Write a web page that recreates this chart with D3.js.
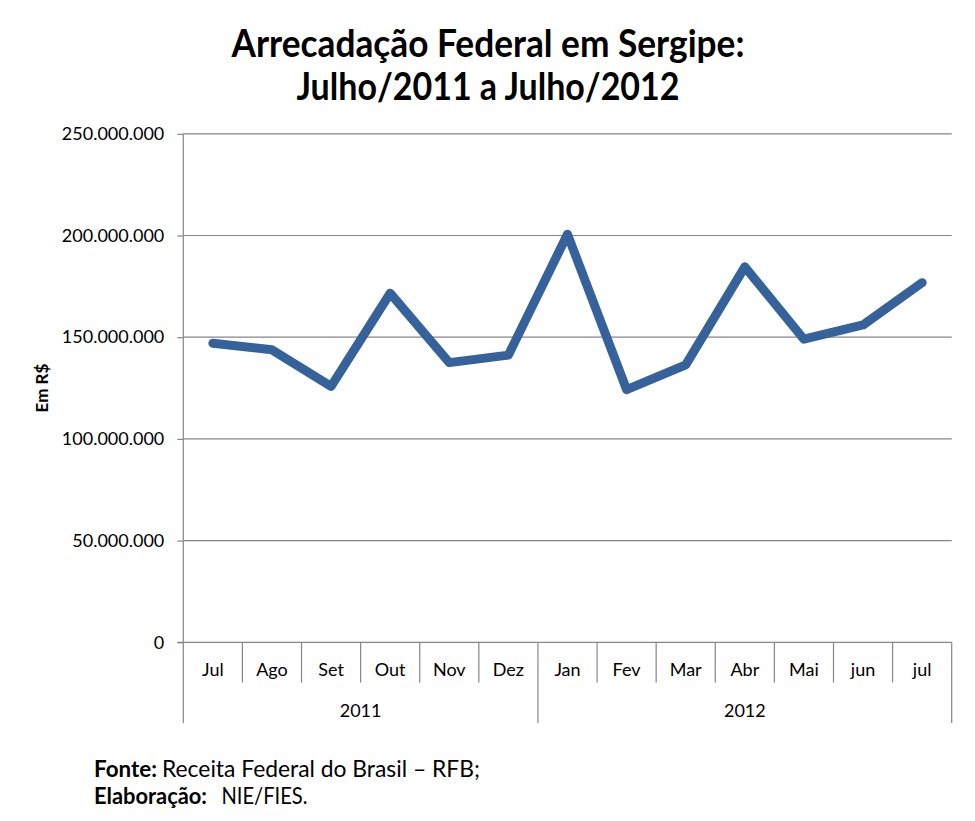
<!DOCTYPE html>
<html>
<head>
<meta charset="utf-8">
<script src="https://cdn.jsdelivr.net/npm/d3@7"></script>
<style>
  html, body { margin: 0; padding: 0; background: #fff; }
  svg { display: block; }
  text { font-family: Lato, "Open Sans", sans-serif; fill: #000; }
</style>
</head>
<body>
<svg id="chart" width="975" height="821"></svg>
<script>
const months = ["Jul","Ago","Set","Out","Nov","Dez","Jan","Fev","Mar","Abr","Mai","jun","jul"];
const values = [147.0e6, 143.8e6, 125.8e6, 171.6e6, 137.5e6, 141.2e6, 200.6e6, 124.2e6, 136.4e6, 184.6e6, 149.0e6, 156.0e6, 176.8e6];
const yearLabels = ["2011", "2012"];
const yearMonthCounts = [6, 7];
const yTicks = [0, 50e6, 100e6, 150e6, 200e6, 250e6];
const titleLines = ["Arrecadação Federal em Sergipe:", "Julho/2011 a Julho/2012"];
const yTitle = "Em R$";

(function () {
const svg = d3.select("#chart");
const pLeft = 183.3, pRight = 951.7, pTop = 133.8, pBottom = 642.3;
const gridColor = "#868686";
const lineColor = "#35629a";

const x = d3.scaleBand().domain(d3.range(months.length)).range([pLeft, pRight]).padding(0);
const y = d3.scaleLinear().domain([0, 250e6]).range([pBottom, pTop]);
const locale = d3.formatLocale({decimal: ",", thousands: ".", grouping: [3], currency: ["R$", ""]});
const fmt = locale.format(",");

// Title
const tLen = [513, 383];
const tY = [57, 100];
titleLines.forEach((t, i) => {
  svg.append("text").attr("x", 488).attr("y", tY[i]).attr("text-anchor", "middle")
    .attr("font-size", 38).attr("font-weight", "bold")
    .attr("textLength", tLen[i]).attr("lengthAdjust", "spacingAndGlyphs").text(t);
});

// Gridlines
svg.append("g").selectAll("line").data(yTicks.filter(d => d > 0)).join("line")
  .attr("x1", pLeft).attr("x2", pRight).attr("y1", d => y(d)).attr("y2", d => y(d))
  .attr("stroke", gridColor).attr("stroke-width", 1.2);

// Y axis
const yAxis = d3.axisLeft(y).tickValues(yTicks).tickFormat(fmt).tickSize(6).tickPadding(13);
const gy = svg.append("g").attr("transform", `translate(${pLeft},0)`).call(yAxis);
gy.select(".domain").remove();
gy.selectAll(".tick line").attr("stroke", gridColor).attr("stroke-width", 1.2);
gy.selectAll(".tick text").attr("font-size", 18).attr("font-family", "Lato, sans-serif").attr("fill", "#000");
svg.append("line").attr("x1", pLeft).attr("x2", pLeft).attr("y1", pTop).attr("y2", 723)
  .attr("stroke", gridColor).attr("stroke-width", 1.2);

// X axis baseline
svg.append("line").attr("x1", pLeft - 6).attr("x2", pRight).attr("y1", pBottom).attr("y2", pBottom)
  .attr("stroke", gridColor).attr("stroke-width", 1.2);

// Month separators
const bounds = d3.range(1, months.length + 1).map(i => (i < months.length ? x(i) : pRight));
const yearBounds = d3.cumsum(yearMonthCounts);
svg.append("g").selectAll("line").data(bounds).join("line")
  .attr("x1", d => d).attr("x2", d => d).attr("y1", pBottom)
  .attr("y2", (d, i) => yearBounds.includes(i + 1) ? 723 : 682.5)
  .attr("stroke", gridColor).attr("stroke-width", 1.2);

// Month labels
svg.append("g").selectAll("text").data(months).join("text")
  .attr("x", (d, i) => x(i) + x.bandwidth() / 2).attr("y", 676)
  .attr("text-anchor", "middle").attr("font-size", 18).text(d => d);

// Year labels
let start = 0;
yearLabels.forEach((lab, i) => {
  const x0 = x(start);
  const endIdx = start + yearMonthCounts[i];
  const x1 = endIdx < months.length ? x(endIdx) : pRight;
  svg.append("text").attr("x", (x0 + x1) / 2).attr("y", 717).attr("text-anchor", "middle")
    .attr("font-size", 18).text(lab);
  start = endIdx;
});

// Y title
svg.append("text").attr("transform", "translate(48,388) rotate(-90)")
  .attr("text-anchor", "middle").attr("font-size", 17).attr("font-weight", "bold").text(yTitle);

// Line
const line = d3.line().x((d, i) => x(i) + x.bandwidth() / 2).y(d => y(d));
svg.append("path").datum(values).attr("d", line).attr("fill", "none")
  .attr("stroke", lineColor).attr("stroke-width", 9)
  .attr("stroke-linecap", "round").attr("stroke-linejoin", "round");

// Footer
const foot = [
  {b: "Fonte:", bLen: 63, n: "Receita Federal do Brasil – RFB;", nx: 162, nLen: 318, y: 777},
  {b: "Elaboração:", bLen: 113, n: "NIE/FIES.", nx: 221.5, nLen: 86, y: 804}
];
foot.forEach(f => {
  svg.append("text").attr("x", 94).attr("y", f.y).attr("font-size", 23).attr("font-weight", "bold")
    .attr("textLength", f.bLen).attr("lengthAdjust", "spacingAndGlyphs").text(f.b);
  svg.append("text").attr("x", f.nx).attr("y", f.y).attr("font-size", 23)
    .attr("textLength", f.nLen).attr("lengthAdjust", "spacingAndGlyphs").text(f.n);
});
})();
</script>
</body>
</html>
